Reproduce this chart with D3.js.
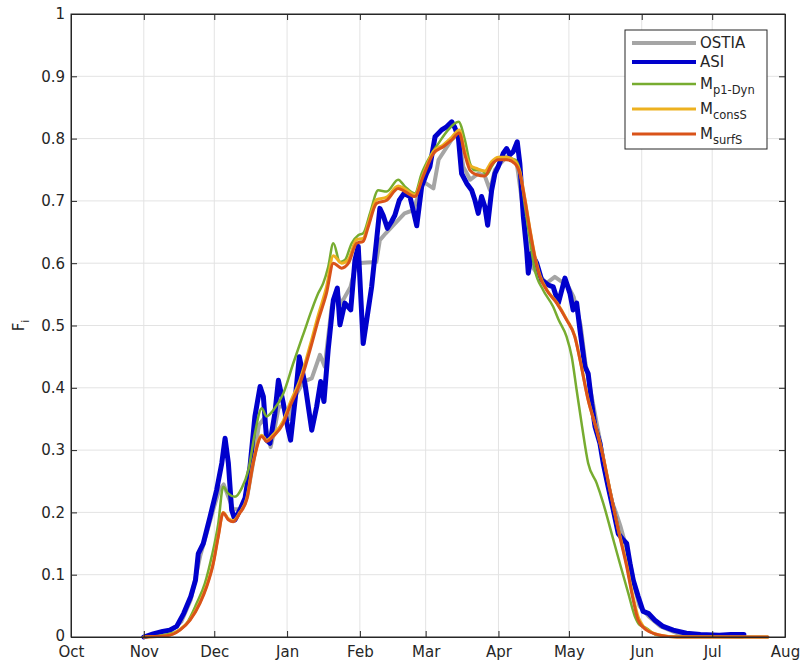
<!DOCTYPE html>
<html lang="en">
<head>
  <meta charset="UTF-8">
  <title>Ice fraction Fi – OSTIA, ASI and model runs</title>
  <script src="https://d3js.org/d3.v7.min.js"></script>
  <style>
    body {
      margin: 0;
      background: white;
      font-family: "DejaVu Sans", sans-serif;
    }
    svg text {
      font-family: "DejaVu Sans", sans-serif;
      fill: #262626;
    }
    .grid line {
      stroke: #e3e3e3;
      stroke-width: 1;
    }
    .axis path, .axis line {
      stroke: #262626;
    }
  </style>
</head>
<body>
<svg width="802" height="663"></svg>

<script>
  // days counted from 1 Oct, value = ice fraction
  const ostia = [[31,0],[37,0.004],[42,0.008],[47,0.025],[51,0.06],[55,0.13],[58,0.17],[61,0.21],[63,0.235],[65,0.245],
    [67,0.225],[69,0.205],[72,0.205],[75,0.225],[78,0.29],[80,0.34],[82,0.35],[84,0.32],[85,0.305],[86.5,0.33],
    [88.5,0.37],[90.5,0.37],[93,0.35],[96,0.39],[99,0.41],[102.5,0.415],[106,0.453],[108,0.434],[111,0.53],[113,0.555],
    [115,0.535],[119,0.562],[121.5,0.6],[126,0.601],[130,0.602],[131.5,0.637],[134,0.648],[138,0.664],[142,0.68],[145.7,0.685],
    [150,0.731],[154.3,0.72],[156.5,0.766],[162,0.798],[164.9,0.808],[167,0.755],[170,0.734],[173.4,0.744],[176.2,0.74],[178.4,0.717],
    [180.5,0.75],[185.5,0.771],[189.7,0.763],[192,0.7],[194,0.637],[195.4,0.6],[198.3,0.584],[202.5,0.568],[206,0.578],[209,0.57],
    [211,0.568],[214,0.546],[217,0.5],[219,0.44],[222,0.38],[225,0.32],[228,0.255],[230,0.22],[232,0.2],[234,0.177],
    [236,0.15],[238,0.12],[240,0.08],[242,0.05],[243.6,0.043],[246,0.033],[251,0.017],[258,0.006],[266,0.002],[286,0.001]];

  const asi = [[31,0],[35,0.005],[39,0.009],[42,0.011],[45,0.017],[48,0.038],[51,0.065],[53,0.091],[54.2,0.134],[56.3,0.15],
    [59.2,0.193],[62,0.236],[64.2,0.279],[65.6,0.319],[67,0.279],[68.4,0.204],[69.8,0.188],[71.9,0.204],[74.1,0.223],[76.2,0.273],
    [78.3,0.354],[80.5,0.402],[81.9,0.386],[83.3,0.316],[84.7,0.311],[86.8,0.359],[88.3,0.412],[90.4,0.375],[92.3,0.336],[93.5,0.316],
    [95.4,0.38],[97.2,0.45],[99.6,0.407],[102.5,0.332],[104.6,0.37],[106.3,0.41],[107.7,0.378],[109.5,0.461],[111.7,0.541],[113.4,0.56],
    [114.5,0.501],[116.6,0.536],[119.1,0.525],[120.9,0.605],[122.3,0.627],[124.4,0.471],[126.1,0.514],[128,0.562],[130.1,0.637],[131.5,0.688],
    [132.9,0.677],[134.7,0.656],[136.5,0.667],[137.9,0.677],[139.8,0.701],[141.8,0.712],[144.3,0.707],[145.7,0.685],[147.2,0.66],[149.3,0.723],
    [151.4,0.744],[152.8,0.755],[155,0.803],[157.8,0.814],[159.9,0.819],[162.1,0.827],[163.5,0.817],[164.9,0.803],[166.3,0.744],[168.5,0.728],
    [170.6,0.717],[172,0.701],[173.4,0.68],[174.8,0.707],[176.2,0.691],[177.4,0.661],[179.1,0.717],[180.5,0.744],[181.9,0.755],[184,0.776],
    [185.5,0.784],[186.9,0.774],[188.3,0.779],[190,0.795],[191.1,0.76],[192.6,0.675],[194,0.621],[194.7,0.584],[196.1,0.616],[198.3,0.6],
    [200.4,0.573],[203.2,0.565],[205.3,0.562],[207.5,0.536],[210.3,0.576],[212.4,0.552],[213.8,0.525],[215.3,0.536],[216.7,0.493],[218.8,0.434],
    [220.2,0.423],[221.7,0.375],[223.1,0.338],[225.2,0.311],[226.6,0.279],[228.7,0.241],[230.9,0.204],[233,0.166],[235.1,0.156],[236.6,0.15],
    [238,0.118],[239.4,0.091],[241.5,0.065],[243.6,0.041],[245.8,0.038],[248.6,0.027],[252.1,0.017],[256.4,0.011],[262,0.006],[268,0.004],
    [276,0.003],[281,0.004],[286.5,0.004]];

  const mp1Dyn = [[31,0],[39.3,0.003],[45,0.009],[49.3,0.022],[53.5,0.054],[57,0.086],[59.9,0.129],[62.7,0.182],[64.8,0.241],[67,0.23],
    [69.8,0.225],[72.7,0.239],[75.5,0.268],[78.3,0.327],[81.2,0.367],[83.3,0.354],[86.1,0.364],[90.4,0.391],[94.6,0.439],[97.5,0.471],
    [99,0.487],[102.5,0.525],[105.3,0.552],[107.4,0.568],[109.5,0.594],[111.7,0.632],[114.5,0.602],[116.6,0.605],[119.5,0.632],[122.3,0.645],
    [124.4,0.648],[127.3,0.68],[130.8,0.717],[134.4,0.715],[139.3,0.734],[142.2,0.723],[146.4,0.712],[149.3,0.744],[152.8,0.771],[156.4,0.792],
    [160.6,0.814],[165,0.827],[167.7,0.798],[169.9,0.76],[172,0.749],[174.8,0.749],[177,0.742],[179.1,0.755],[181.2,0.766],[185.5,0.768],
    [189,0.766],[191.1,0.749],[193.3,0.691],[195.4,0.637],[197.5,0.589],[201,0.557],[205.3,0.53],[207.5,0.51],[211,0.482],[213.2,0.45],
    [215.3,0.396],[217.4,0.343],[220.2,0.279],[223.8,0.247],[226.6,0.215],[230.2,0.166],[233.7,0.118],[237.3,0.07],[240.1,0.033],[242.2,0.019],
    [245.1,0.014],[249.3,0.003],[255,0.001],[296.7,0]];

  const mConsS = [[31,0],[40.8,0.002],[46.4,0.012],[50.7,0.028],[54.9,0.056],[57.8,0.083],[60.6,0.12],[62.7,0.163],[64.8,0.2],[67,0.19],
    [69.1,0.187],[71.9,0.2],[74.8,0.222],[77.6,0.281],[81.2,0.324],[83.3,0.316],[86.1,0.325],[90.4,0.347],[93.2,0.375],[97.5,0.413],
    [101.8,0.468],[105.3,0.517],[108.8,0.562],[111.7,0.612],[115.2,0.6],[118.1,0.606],[121.6,0.638],[124.4,0.64],[126.6,0.664],[130.1,0.702],
    [134.4,0.706],[139.3,0.724],[142.2,0.719],[146.4,0.71],[149.9,0.742],[154.3,0.779],[158.5,0.79],[162.1,0.802],[165.3,0.814],[167.7,0.779],
    [169.9,0.757],[172.7,0.752],[176.2,0.748],[179.1,0.763],[181.9,0.77],[185.5,0.77],[189,0.764],[191.1,0.747],[193.3,0.703],[195.4,0.655],
    [197.5,0.612],[199.7,0.58],[202.5,0.558],[206.8,0.537],[211,0.51],[214.5,0.483],[216.7,0.446],[220.2,0.381],[223.8,0.333],[226.6,0.29],
    [229.4,0.238],[233,0.174],[236.6,0.116],[239.4,0.063],[241.5,0.032],[243.5,0.018],[246,0.01],[251,0.003],[258,0],[296.7,0]];

  const mSurfS = [[31,0],[40.8,0.002],[46.4,0.011],[50.7,0.027],[54.9,0.054],[57.8,0.081],[60.6,0.118],[62.7,0.161],[64.8,0.199],[67,0.188],
    [69.1,0.185],[71.9,0.199],[74.8,0.22],[77.6,0.279],[81.2,0.322],[83.3,0.314],[86.1,0.322],[90.4,0.343],[93.2,0.37],[97.5,0.407],
    [101.8,0.461],[105.3,0.509],[108.8,0.552],[111.7,0.6],[115.2,0.592],[118.1,0.6],[121.6,0.632],[124.4,0.635],[126.6,0.659],[130.1,0.696],
    [134.4,0.701],[139.3,0.72],[142.2,0.715],[146.4,0.707],[149.9,0.739],[154.3,0.776],[158.5,0.787],[162.1,0.798],[165.3,0.809],[167.7,0.774],
    [169.9,0.749],[172.7,0.742],[176.2,0.74],[179.1,0.758],[181.9,0.766],[185.5,0.766],[189,0.76],[191.1,0.744],[193.3,0.701],[195.4,0.653],
    [197.5,0.61],[199.7,0.578],[202.5,0.557],[206.8,0.536],[211,0.509],[214.5,0.482],[216.7,0.445],[220.2,0.38],[223.8,0.332],[226.6,0.289],
    [229.4,0.236],[233,0.172],[236.6,0.113],[239.4,0.059],[241.5,0.027],[245.1,0.011],[250.7,0.003],[258,0],[296.7,0]];

  const monthTicks = ["Oct","Nov","Dec","Jan","Feb","Mar","Apr","May","Jun","Jul","Aug"];
  const yTicks = [0,0.1,0.2,0.3,0.4,0.5,0.6,0.7,0.8,0.9,1];

  const series = [
    { name: "OSTIA", sub: "",        data: ostia,  color: "#a5a5a5", width: 4,   curve: d3.curveLinear },
    { name: "ASI",   sub: "",        data: asi,    color: "#0000cc", width: 5,   curve: d3.curveLinear },
    { name: "M",     sub: "p1-Dyn",  data: mp1Dyn, color: "#77ac30", width: 2.5, curve: d3.curveMonotoneX },
    { name: "M",     sub: "consS",   data: mConsS, color: "#edb120", width: 3,   curve: d3.curveMonotoneX },
    { name: "M",     sub: "surfS",   data: mSurfS, color: "#d95319", width: 3,   curve: d3.curveMonotoneX }
  ];

  const svg = d3.select("svg"),
        margin = { top: 14, right: 17, bottom: 26, left: 71 },
        width = +svg.attr("width") - margin.left - margin.right,
        height = +svg.attr("height") - margin.top - margin.bottom,
        chart = svg.append("g").attr("transform", `translate(${margin.left},${margin.top})`);

  const start = new Date(2018, 9, 1);
  const day = d => start.getTime() + d * 864e5;
  const monthDates = monthTicks.map((m, i) => d3.timeMonth.offset(start, i));

  const x = d3.scaleTime().domain([start, monthDates[monthDates.length - 1]]).range([0, width]);
  const y = d3.scaleLinear().domain([0, 1]).range([height, 0]);

  // grid
  chart.append("g").attr("class", "grid")
    .selectAll("line").data(monthDates.slice(1, -1)).join("line")
    .attr("x1", d => x(d)).attr("x2", d => x(d))
    .attr("y1", 0).attr("y2", height);
  chart.append("g").attr("class", "grid")
    .selectAll("line").data(yTicks.slice(1, -1)).join("line")
    .attr("x1", 0).attr("x2", width)
    .attr("y1", d => y(d)).attr("y2", d => y(d));

  // lines
  series.forEach(s => {
    const line = d3.line()
      .x(d => x(day(d[0])))
      .y(d => y(d[1]))
      .curve(s.curve);
    chart.append("path")
      .datum(s.data)
      .attr("fill", "none")
      .attr("stroke", s.color)
      .attr("stroke-width", s.width)
      .attr("stroke-linejoin", "round")
      .attr("stroke-linecap", "round")
      .attr("d", line);
  });

  // axes (MATLAB-style box with inward ticks)
  const xAxis = chart.append("g").attr("class", "axis")
    .attr("transform", `translate(0,${height})`)
    .call(d3.axisBottom(x).tickValues(monthDates)
      .tickFormat((d, i) => monthTicks[i])
      .tickSizeInner(-6).tickSizeOuter(0).tickPadding(9));
  xAxis.selectAll("text").style("font-size", "15px");

  const yAxis = chart.append("g").attr("class", "axis")
    .call(d3.axisLeft(y).tickValues(yTicks)
      .tickFormat(d => d === 0 || d === 1 ? d3.format("d")(d) : d3.format(".1f")(d))
      .tickSizeInner(-6).tickSizeOuter(0).tickPadding(6));
  yAxis.selectAll("text").style("font-size", "15px");
  yAxis.selectAll(".tick").filter(d => d === 0).select("text").attr("dy", "0.22em");

  chart.append("g").attr("class", "axis")
    .call(d3.axisTop(x).tickValues(monthDates).tickFormat("").tickSizeInner(-6).tickSizeOuter(0));
  chart.append("g").attr("class", "axis")
    .attr("transform", `translate(${width},0)`)
    .call(d3.axisRight(y).tickValues(yTicks).tickFormat("").tickSizeInner(-6).tickSizeOuter(0));

  chart.append("rect")
    .attr("width", width).attr("height", height)
    .attr("fill", "none").attr("stroke", "#262626").attr("stroke-width", 1);

  // y label F_i
  const yLabel = svg.append("text")
    .attr("transform", `translate(24,${margin.top + height / 2}) rotate(-90)`)
    .attr("text-anchor", "middle")
    .style("font-size", "15px");
  yLabel.append("tspan").text("F");
  yLabel.append("tspan").attr("dy", 5).style("font-size", "11px").text("i");

  // legend
  const legend = svg.append("g").attr("transform", "translate(625,30)");
  legend.append("rect")
    .attr("width", 142).attr("height", 119)
    .attr("fill", "white").attr("stroke", "#262626").attr("stroke-width", 1);

  const rowY = [13, 32, 54, 79, 104];
  series.forEach((s, i) => {
    const row = legend.append("g").attr("transform", `translate(0,${rowY[i]})`);
    row.append("line")
      .attr("x1", 7).attr("x2", 71)
      .attr("stroke", s.color)
      .attr("stroke-width", Math.min(s.width, 4));
    const t = row.append("text")
      .attr("x", 75).attr("y", 5)
      .style("font-size", "15px");
    t.append("tspan").text(s.name);
    if (s.sub) {
      t.append("tspan").attr("dy", 5).style("font-size", "11.5px").text(s.sub);
    }
  });
</script>

</body>
</html>
